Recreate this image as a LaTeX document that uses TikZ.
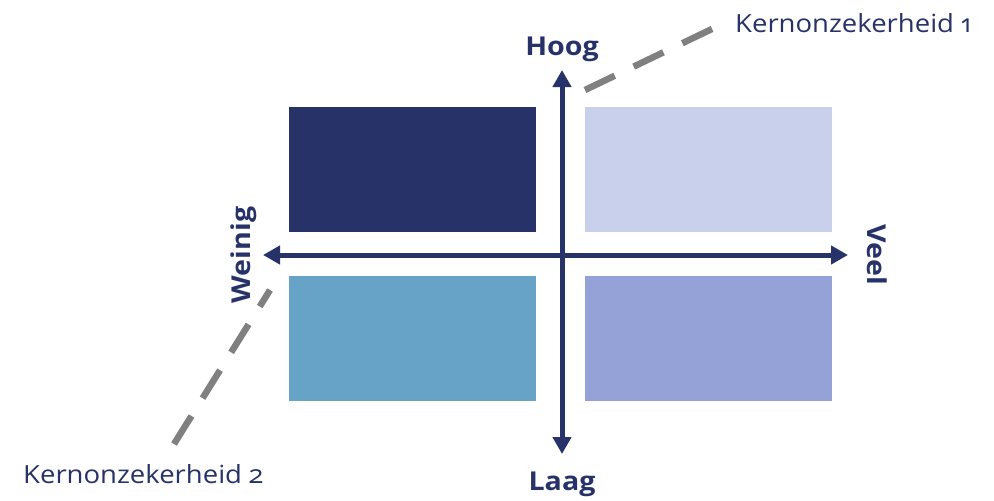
\documentclass[tikz,border=0pt]{standalone}
\usepackage{fontspec}
\setmainfont{Open Sans}[Numbers=OldStyle, FakeStretch=1.1]
\usetikzlibrary{arrows.meta}
\definecolor{navy}{HTML}{263268}
\definecolor{lav}{HTML}{C8D0EB}
\definecolor{sky}{HTML}{66A3C7}
\definecolor{peri}{HTML}{95A2D8}
\definecolor{dgray}{HTML}{808080}
\tikzset{
  quad/.style={minimum width=247pt, minimum height=125pt, inner sep=0pt, draw=none},
  axis/.style={draw=navy, line width=5pt, {Triangle[width=18pt,length=17pt]}-{Triangle[width=18pt,length=17pt]}},
  axislabel/.style={text=navy, font=\fontsize{26}{30}\selectfont\bfseries, inner sep=0pt},
  unclabel/.style={text=navy, font=\fontsize{25}{29}\selectfont, inner sep=0pt},
  uncline/.style={draw=dgray, line width=6.5pt, dash pattern=on 33pt off 21pt},
}
\begin{document}
\begin{tikzpicture}[x=1pt,y=-1pt]
\useasboundingbox (0,0) rectangle (994,501);
\node[quad, fill=navy] (tl) at (412.5,169.5) {};
\node[quad, fill=lav]  (tr) at (708,169.5) {};
\node[quad, fill=sky]  (bl) at (412.5,338.5) {};
\node[quad, fill=peri] (br) at (708,338.5) {};
\coordinate (vt) at (562,70);
\coordinate (vb) at (562,454);
\coordinate (hl) at (263,255);
\coordinate (hr) at (848,255);
\draw[axis] (vb) -- (vt);
\draw[axis] (hl) -- (hr);
\node[axislabel, anchor=base] (hoog) at (562,55) {Hoog};
\node[axislabel, anchor=base] (laag) at (562,490) {Laag};
\node[axislabel, anchor=base, rotate=90] (weinig) at (250,255) {Weinig};
\node[axislabel, anchor=base, rotate=-90] (veel) at (867,255) {Veel};
\node[unclabel, anchor=base west] (k1) at (735,32) {Kernonzekerheid 1};
\node[unclabel, anchor=base west] (k2) at (23,483) {Kernonzekerheid 2};
\coordinate (d1a) at (585,90);
\coordinate (d1b) at (714,28);
\coordinate (d2a) at (174,444);
\coordinate (d2b) at (270,290);
\draw[uncline] (d1a) -- (d1b);
\draw[uncline] (d2a) -- (d2b);
\end{tikzpicture}
\end{document}
